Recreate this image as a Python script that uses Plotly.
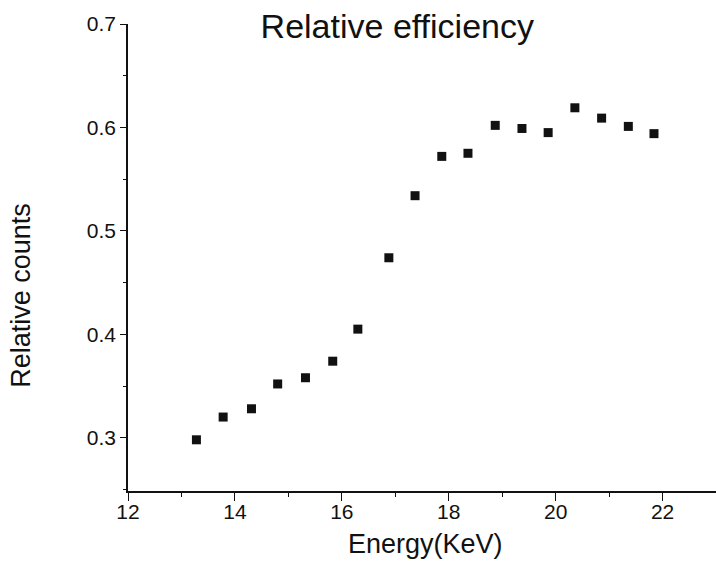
import plotly.graph_objects as go

energy = [13.28, 13.78, 14.31, 14.80, 15.32, 15.83, 16.30, 16.88, 17.37,
          17.87, 18.36, 18.87, 19.37, 19.86, 20.36, 20.86, 21.36, 21.84]
counts = [0.298, 0.320, 0.328, 0.352, 0.358, 0.374, 0.405, 0.474, 0.534,
          0.572, 0.575, 0.602, 0.599, 0.595, 0.619, 0.609, 0.601, 0.594]

title_text = "Relative efficiency"
x_title = "Energy(KeV)"
y_title = "Relative counts"

FONT = "Liberation Sans, Arial, sans-serif"
INK = "#111111"

fig = go.Figure()
fig.add_trace(go.Scatter(
    x=energy, y=counts, mode="markers",
    marker=dict(symbol="square", size=9, color=INK, line=dict(width=0)),
    showlegend=False,
))

fig.update_layout(
    width=716, height=569,
    margin=dict(l=128, r=0, t=24, b=78),
    paper_bgcolor="white", plot_bgcolor="white",
    font=dict(family=FONT, color=INK),
    title=dict(text=title_text, font=dict(size=34, family=FONT, color=INK),
               xref="paper", x=0.458, xanchor="center",
               yref="container", y=1 - 26 / 569, yanchor="middle"),
    xaxis=dict(range=[12, 23.0], tickmode="linear", tick0=12, dtick=2,
               showgrid=False, zeroline=False, showline=True, linecolor=INK,
               linewidth=1.6, ticks="outside", ticklen=8, tickwidth=1.4,
               tickcolor=INK, tickfont=dict(size=21, family=FONT, color=INK),
               ticklabelstandoff=-7,
               minor=dict(ticks="outside", dtick=1, ticklen=4, tickwidth=1.2,
                          tickcolor=INK, showgrid=False)),
    yaxis=dict(range=[0.2485, 0.7], tickmode="linear", tick0=0.3, dtick=0.1,
               tickformat=".1f",
               showgrid=False, zeroline=False, showline=True, linecolor=INK,
               linewidth=1.6, ticks="outside", ticklen=6, tickwidth=1.4,
               tickcolor=INK, tickfont=dict(size=21, family=FONT, color=INK),
               minor=dict(ticks="outside", dtick=0.05, ticklen=3, tickwidth=1.2,
                          tickcolor=INK, showgrid=False)),
    annotations=[
        dict(text=x_title, xref="paper", yref="paper", x=0.506, y=-0.114,
             xanchor="center", yanchor="middle", showarrow=False,
             font=dict(size=27, family=FONT, color=INK)),
        dict(text=y_title, xref="paper", yref="paper", x=-0.182, y=0.42,
             xanchor="center", yanchor="middle", showarrow=False, textangle=-90,
             font=dict(size=27, family=FONT, color=INK)),
    ],
)

fig.write_html("out.html")
